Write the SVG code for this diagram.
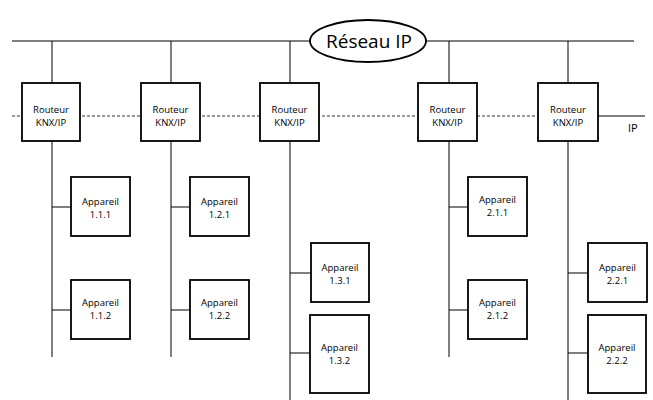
<svg xmlns="http://www.w3.org/2000/svg" width="653" height="400" viewBox="0 0 653 400">
<style>
.box{fill:#fff;stroke:#000;stroke-width:1.8}
.ln{stroke:#000;stroke-width:1;fill:none}
.dash{stroke:#333;stroke-width:1;stroke-dasharray:3,2;fill:none}
text{font-family:"Open Sans","Liberation Sans",Arial,sans-serif;font-size:9.5px;fill:#000;text-anchor:middle}
.big{font-size:19px}
.ip{font-size:11px;text-anchor:start}
</style>
<rect width="653" height="400" fill="#fff"/>
<g id="connectors">
<line class="ln" x1="12" y1="41" x2="634" y2="41"/>
<line class="dash" x1="12" y1="116" x2="538" y2="116"/>
<line class="ln" x1="598" y1="116" x2="645" y2="116"/>
<line class="ln" x1="52" y1="41" x2="52" y2="83"/>
<line class="ln" x1="171" y1="41" x2="171" y2="83"/>
<line class="ln" x1="290" y1="41" x2="290" y2="83"/>
<line class="ln" x1="449" y1="41" x2="449" y2="83"/>
<line class="ln" x1="568" y1="41" x2="568" y2="83"/>
<line class="ln" x1="52" y1="141" x2="52" y2="357"/>
<line class="ln" x1="171" y1="141" x2="171" y2="357"/>
<line class="ln" x1="290" y1="141" x2="290" y2="400"/>
<line class="ln" x1="449" y1="141" x2="449" y2="357"/>
<line class="ln" x1="568" y1="141" x2="568" y2="400"/>
<line class="ln" x1="52" y1="207" x2="71" y2="207"/>
<line class="ln" x1="52" y1="310" x2="71" y2="310"/>
<line class="ln" x1="171" y1="207" x2="190" y2="207"/>
<line class="ln" x1="171" y1="310" x2="190" y2="310"/>
<line class="ln" x1="290" y1="273" x2="311" y2="273"/>
<line class="ln" x1="290" y1="353" x2="310" y2="353"/>
<line class="ln" x1="449" y1="207" x2="468" y2="207"/>
<line class="ln" x1="449" y1="310" x2="468" y2="310"/>
<line class="ln" x1="568" y1="273" x2="588" y2="273"/>
<line class="ln" x1="568" y1="353" x2="588" y2="353"/>
</g>
<g id="reseau-ip">
<ellipse cx="368" cy="41" rx="58" ry="21" class="box" stroke-width="1.5"/>
<text class="big" x="369" y="48">Réseau IP</text>
</g>
<text class="ip" x="628" y="132">IP</text>
<g id="routeur1"><rect class="box" x="22" y="83" width="58" height="58"/><text x="51" y="113">Routeur</text><text x="51" y="126">KNX/IP</text></g>
<g id="routeur2"><rect class="box" x="141" y="83" width="59" height="58"/><text x="170.5" y="113">Routeur</text><text x="170.5" y="126">KNX/IP</text></g>
<g id="routeur3"><rect class="box" x="260" y="83" width="59" height="58"/><text x="289.5" y="113">Routeur</text><text x="289.5" y="126">KNX/IP</text></g>
<g id="routeur4"><rect class="box" x="418" y="83" width="59" height="58"/><text x="447.5" y="113">Routeur</text><text x="447.5" y="126">KNX/IP</text></g>
<g id="routeur5"><rect class="box" x="538" y="83" width="60" height="58"/><text x="568" y="113">Routeur</text><text x="568" y="126">KNX/IP</text></g>
<g id="app111"><rect class="box" x="71" y="177" width="59" height="59"/><text x="100.5" y="205">Appareil</text><text x="100.5" y="218">1.1.1</text></g>
<g id="app112"><rect class="box" x="71" y="280" width="59" height="59"/><text x="100.5" y="306">Appareil</text><text x="100.5" y="319">1.1.2</text></g>
<g id="app121"><rect class="box" x="190" y="177" width="59" height="59"/><text x="219.5" y="205">Appareil</text><text x="219.5" y="218">1.2.1</text></g>
<g id="app122"><rect class="box" x="190" y="280" width="59" height="59"/><text x="219.5" y="306">Appareil</text><text x="219.5" y="319">1.2.2</text></g>
<g id="app131"><rect class="box" x="311" y="243" width="58" height="59"/><text x="340" y="271">Appareil</text><text x="340" y="284">1.3.1</text></g>
<g id="app132"><rect class="box" x="310" y="315" width="59" height="78"/><text x="339.5" y="351">Appareil</text><text x="339.5" y="364">1.3.2</text></g>
<g id="app211"><rect class="box" x="468" y="177" width="59" height="59"/><text x="497.5" y="203">Appareil</text><text x="497.5" y="216">2.1.1</text></g>
<g id="app212"><rect class="box" x="468" y="280" width="59" height="59"/><text x="497.5" y="306">Appareil</text><text x="497.5" y="319">2.1.2</text></g>
<g id="app221"><rect class="box" x="588" y="243" width="59" height="59"/><text x="617.5" y="271">Appareil</text><text x="617.5" y="284">2.2.1</text></g>
<g id="app222"><rect class="box" x="588" y="315" width="58" height="78"/><text x="617" y="351">Appareil</text><text x="617" y="364">2.2.2</text></g>
</svg>
